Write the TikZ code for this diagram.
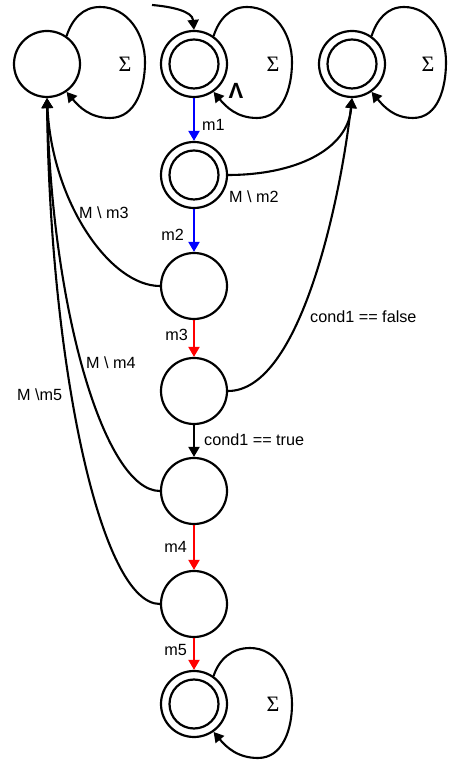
\documentclass[tikz,border=0pt]{standalone}
\usepackage{fontspec}
\setmainfont{Liberation Sans}
\newfontfamily\sigmafont{Liberation Serif}
\usetikzlibrary{arrows.meta}
\definecolor{eblue}{RGB}{0,0,255}
\definecolor{ered}{RGB}{255,0,0}
\begin{document}
\begin{tikzpicture}[x=1pt,y=1pt,
  st/.style={circle,draw,line width=2.2pt,minimum size=66pt,inner sep=0pt},
  instate/.style={circle,draw,line width=2.2pt,minimum size=49pt,inner sep=0pt},
  edge/.style={line width=2.1pt,-{Triangle[width=11pt,length=10pt]}},
  lbl/.style={font=\fontsize{16.2}{19}\selectfont,inner sep=0pt},
  sig/.style={font=\sigmafont\fontsize{22}{24}\selectfont,inner sep=0pt}]
\useasboundingbox (0,0) rectangle (448,762);

% states
\node[st] (A) at (47,698) {};
\node[st] (B) at (194,698) {};
\node[instate] (Bin) at (B) {};
\node[st] (C) at (352,698) {};
\node[instate] (Cin) at (C) {};
\node[st] (D) at (194,587) {};
\node[instate] (Din) at (D) {};
\node[st] (E) at (194,476) {};
\node[st] (F) at (194,371) {};
\node[st] (G) at (194,271) {};
\node[st] (H) at (194,158) {};
\node[st] (I) at (194,58) {};
\node[instate] (Iin) at (I) {};

% self loops
\draw[edge] (A.55) to[out=72,in=180] ([shift={(53,57)}]A.center) to[out=0,in=90] ([shift={(98,2)}]A.center) to[out=-90,in=0] ([shift={(63,-54)}]A.center) to[out=180,in=-50] (A.-55);
\draw[edge] (B.55) to[out=72,in=180] ([shift={(53,57)}]B.center) to[out=0,in=90] ([shift={(98,2)}]B.center) to[out=-90,in=0] ([shift={(63,-54)}]B.center) to[out=180,in=-50] (B.-55);
\draw[edge] (C.55) to[out=72,in=180] ([shift={(52,57)}]C.center) to[out=0,in=90] ([shift={(94,2)}]C.center) to[out=-90,in=0] ([shift={(61,-54)}]C.center) to[out=180,in=-50] (C.-55);
\draw[edge] (I.55) to[out=72,in=180] ([shift={(56,56)}]I.center) to[out=0,in=90] ([shift={(98,0)}]I.center) to[out=-90,in=0] ([shift={(64,-54)}]I.center) to[out=180,in=-50] (I.-55);

\node[sig] (sA) at ([shift={(78,0)}]A.center) {Σ};
\node[sig] (sB) at ([shift={(79,0)}]B.center) {Σ};
\node[sig] (sC) at ([shift={(76,0)}]C.center) {Σ};
\node[sig] (sI) at ([shift={(79,0)}]I.center) {Σ};
\node[font=\bfseries\fontsize{22}{24}\selectfont,inner sep=0pt] (wedge) at (236,671) {Λ};

% initial arrow
\coordinate (start) at (152,757);
\draw[edge] (start) to[out=-5,in=95] (B.north);

% chain
\draw[edge,eblue] (B.south) -- (D.north);
\draw[edge,eblue] (D.south) -- (E.north);
\draw[edge,ered] (E.south) -- (F.north);
\draw[edge] (F.south) -- (G.north);
\draw[edge,ered] (G.south) -- (H.north);
\draw[edge,ered] (H.south) -- (I.north);

\node[lbl,anchor=west] (l1) at (202,637) {m1};
\node[lbl,anchor=east] (l2) at (184,527) {m2};
\node[lbl,anchor=east] (l3) at (188,427) {m3};
\node[lbl,anchor=west] (lt) at (204,322) {cond1 == true};
\node[lbl,anchor=east] (l4) at (187,215) {m4};
\node[lbl,anchor=east] (l5) at (187,112) {m5};

% curves to C
\draw[edge] (D.east) .. controls (295,587) and (348,612) .. (C.south);
\draw[edge] (F.east) .. controls (300,371) and (340,560) .. (C.south);
\node[lbl,anchor=west] (lm2) at (229,565) {M \textbackslash{} m2};
\node[lbl,anchor=west] (lf) at (310,445) {cond1 == false};

% curves to A
\draw[edge] (E.west) .. controls (110,476) and (52,560) .. (A.south);
\draw[edge] (G.west) .. controls (105,271) and (52,450) .. (A.south);
\draw[edge] (H.west) .. controls (100,158) and (50,400) .. (A.south);
\node[lbl,anchor=west] (lm3) at (79,549) {M \textbackslash{} m3};
\node[lbl,anchor=west] (lm4) at (86,399) {M \textbackslash{} m4};
\node[lbl,anchor=west] (lm5) at (17,367) {M \textbackslash m5};
\end{tikzpicture}
\end{document}
